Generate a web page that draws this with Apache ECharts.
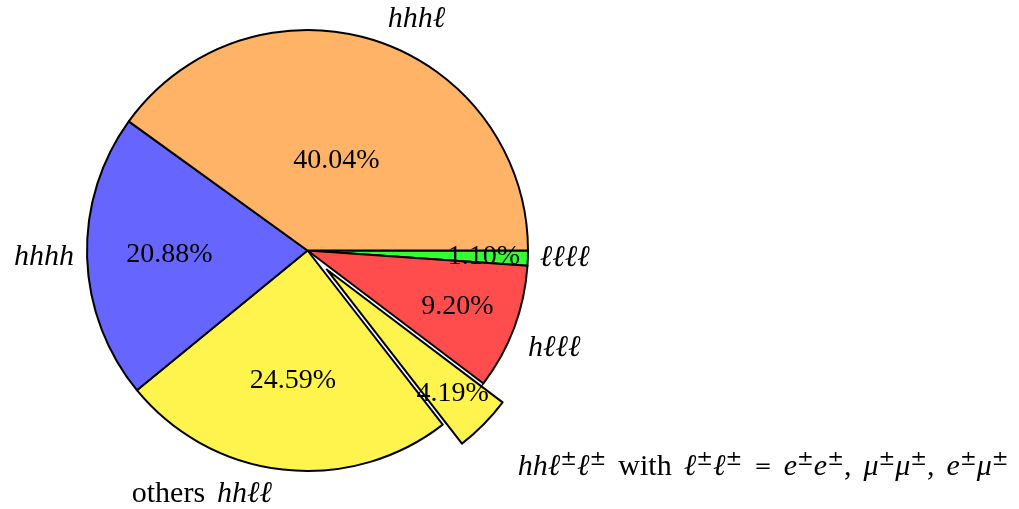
<!DOCTYPE html>
<html><head><meta charset="utf-8">
<script src="https://cdn.jsdelivr.net/npm/echarts@6/dist/echarts.min.js"></script>
<style>html,body{margin:0;padding:0;background:#fff}#c{width:1019px;height:509px}</style>
</head><body><div id="c"></div>
<script>
// ---- data ----
const categories = ['ℓℓℓℓ', 'hℓℓℓ', 'hhℓ±ℓ± with ℓ±ℓ± = e±e±, μ±μ±, e±μ±', 'others hhℓℓ', 'hhhh', 'hhhℓ'];
const shares = [1.10, 9.20, 4.19, 24.59, 20.88, 40.04];
const exploded = [false, false, true, false, false, false];

// ---- style / layout config ----
const colors = ['#33FF33', '#FF4D4D', '#FFF34D', '#FFF34D', '#6666FF', '#FFB366'];
const R = 220.5, CENTER = [307.5, 250.5], OFFSET = 27;
const FONT = 'Liberation Serif';
const pctPos = [0.80, 0.726, 0.803, 0.596, 0.626, 0.427];   // fraction of radius
const nameLen = [7, 9.5, 41, 24.5, 8, 24];
const namePad = [[0,0,0,0],[34,0,0,0],[28,0,0,0],[0,3,0,0],[0,0,0,0],[3,0,0,0]];

function toRich(s) {
  return s.split(/(\s+|±|,|=|others|with)/).filter(t => t !== '').map(t => {
    if (t === '±') return '{s|±}';
    if (t === '=') return '{e|=}';
    if (/^\s+$/.test(t)) return '{w| }';
    if (t === 'others' || t === 'with' || t === ',') return '{n|' + t + '}';
    return '{i|' + t + '}';
  }).join('');
}

const rich = {
  i: { fontFamily: FONT, fontStyle: 'italic', fontSize: 30, lineHeight: 34, color: '#000' },
  n: { fontFamily: FONT, fontSize: 30, lineHeight: 34, color: '#000' },
  w: { fontFamily: FONT, fontSize: 28, lineHeight: 34, width: 12 },
  e: { fontFamily: 'DejaVu Serif', fontSize: 21, lineHeight: 34, color: '#000' },
  s: { fontFamily: 'DejaVu Serif', fontSize: 20, lineHeight: 22, verticalAlign: 'top', color: '#000' }
};

const mainData = categories.map((name, i) => ({
  name: name,
  value: shares[i],
  selected: exploded[i],
  itemStyle: { color: colors[i] },
  labelLine: { length: nameLen[i] },
  label: Object.assign({ padding: namePad[i] }, exploded[i] ? { width: 520 } : {})
}));

const series = [{
  type: 'pie',
  center: CENTER,
  radius: R,
  startAngle: 0,
  clockwise: true,
  selectedMode: 'single',
  selectedOffset: OFFSET,
  avoidLabelOverlap: false,
  animation: false,
  silent: true,
  emphasis: { disabled: true, scale: false },
  itemStyle: { borderColor: '#000', borderWidth: 2 },
  select: { itemStyle: { borderColor: '#000', borderWidth: 2 } },
  label: {
    show: true, position: 'outside', color: '#000', fontFamily: FONT, fontSize: 28,
    formatter: p => toRich(p.name), rich: rich
  },
  labelLine: { show: false, length2: 0 },
  data: mainData
}];

// ECharts puts inside pie labels 3px beyond the mid radius
shares.forEach((v, k) => {
  series.push({
    type: 'pie',
    center: CENTER,
    radius: 2 * (pctPos[k] * R - 3),
    startAngle: 0,
    clockwise: true,
    selectedMode: 'single',
    selectedOffset: OFFSET,
    avoidLabelOverlap: false,
    animation: false,
    silent: true,
    emphasis: { disabled: true, scale: false },
    itemStyle: { color: 'rgba(0,0,0,0)', borderWidth: 0 },
    select: { itemStyle: { color: 'rgba(0,0,0,0)', borderWidth: 0 } },
    label: {
      show: true, position: 'inside', color: '#000', fontFamily: FONT, fontSize: 28,
      formatter: p => p.dataIndex === k ? p.value.toFixed(2) + '%' : ''
    },
    labelLine: { show: false },
    data: categories.map((name, i) => ({ name: name, value: shares[i], selected: exploded[i] }))
  });
});

const chart = echarts.init(document.getElementById('c'), null, { renderer: 'canvas' });
chart.setOption({ backgroundColor: '#fff', animation: false, series: series });
</script></body></html>
